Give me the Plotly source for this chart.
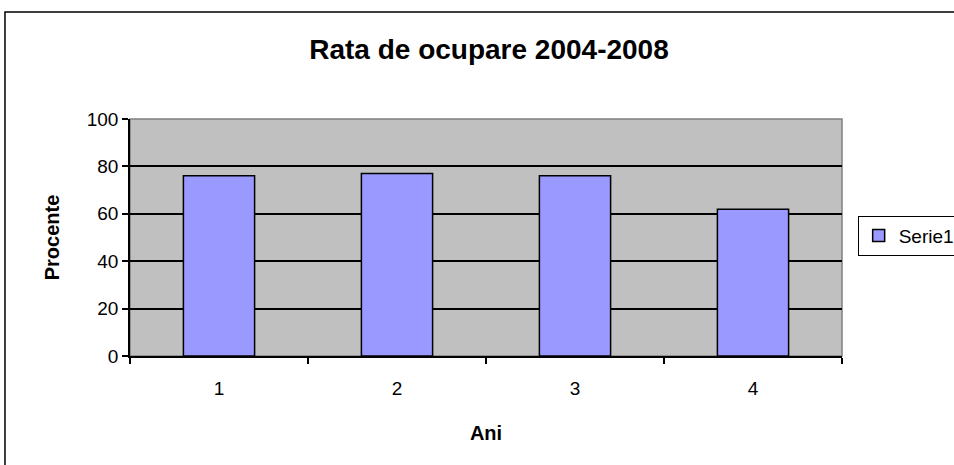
import plotly.graph_objects as go

ani = ["1", "2", "3", "4"]
procente = [76.1, 77.0, 76.1, 61.9]
y_ticks = [0, 20, 40, 60, 80, 100]

FONT = "Liberation Sans, Arial, sans-serif"

fig = go.Figure()

fig.add_trace(
    go.Bar(
        x=ani,
        y=procente,
        name="Serie1",
        marker=dict(color="#9999FF", line=dict(color="black", width=1.5)),
    )
)

fig.update_layout(
    width=954,
    height=465,
    margin=dict(l=130, r=112, t=119, b=109, autoexpand=False),
    paper_bgcolor="white",
    plot_bgcolor="#C0C0C0",
    font=dict(family=FONT, size=19, color="black"),
    bargap=0.6,
    showlegend=True,
    title=dict(
        text="<b>Rata de ocupare 2004-2008</b>",
        x=489 / 954,
        xanchor="center",
        y=1 - 49 / 465,
        yanchor="middle",
        font=dict(size=28, family=FONT),
    ),
    legend=dict(
        x=1.022,
        y=0.508,
        xanchor="left",
        yanchor="middle",
        bgcolor="white",
        bordercolor="black",
        borderwidth=1,
        itemwidth=30,
        font=dict(size=19, family=FONT),
    ),
    shapes=[
        dict(
            type="rect", xref="paper", yref="paper",
            x0=-0.1756, x1=1.4, y0=-0.6, y1=1.4515,
            line=dict(color="black", width=1.5), layer="below",
        ),
        dict(
            type="rect", xref="paper", yref="paper",
            x0=0, x1=1, y0=0, y1=1,
            line=dict(color="#808080", width=1.5), layer="below",
        ),
    ],
)

fig.update_xaxes(
    type="category",
    tickson="boundaries",
    ticks="outside",
    ticklen=6,
    tickwidth=1.5,
    tickcolor="black",
    ticklabelstandoff=14,
    showline=True,
    linecolor="black",
    linewidth=1.5,
    showgrid=False,
    title=dict(text="<b>Ani</b>", standoff=28, font=dict(size=20)),
    tickfont=dict(size=19),
)

fig.update_yaxes(
    range=[0, 100],
    tickvals=y_ticks,
    ticks="outside",
    ticklen=6,
    tickwidth=1.5,
    tickcolor="black",
    showline=True,
    linecolor="black",
    linewidth=1.5,
    showgrid=True,
    gridcolor="black",
    gridwidth=1.5,
    zeroline=False,
    title=dict(text="<b>Procente</b>", standoff=22, font=dict(size=20)),
    tickfont=dict(size=19),
)

fig.write_html(
    "out.html",
    config={"displayModeBar": False},
    post_script="document.body.style.margin='0';",
)
